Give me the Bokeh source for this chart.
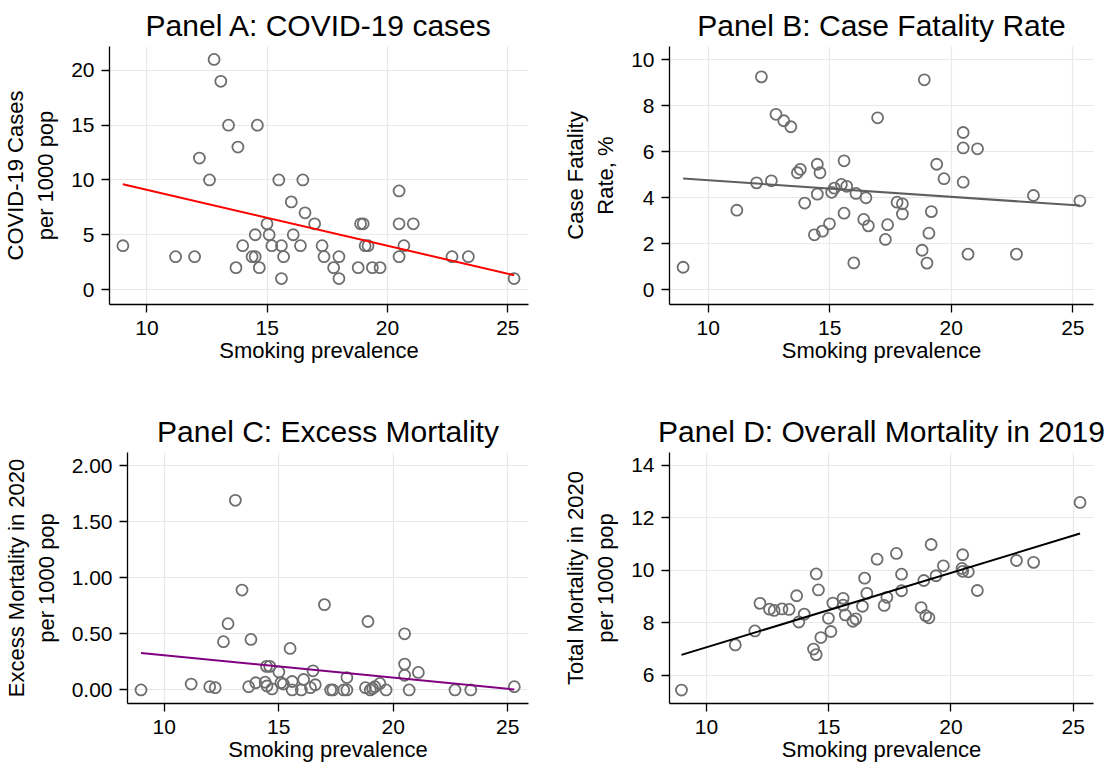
import numpy as np
from bokeh.plotting import figure
from bokeh.layouts import column, row
from bokeh.models import Range1d, FixedTicker, PrintfTickFormatter
from bokeh.embed import file_html
from bokeh.resources import INLINE

FONT = "Liberation Sans"

x_ticks = [10, 15, 20, 25]
x_label = "Smoking prevalence"

# Panel A: COVID-19 cases per 1000 pop
a_title = "Panel A: COVID-19 cases"
a_ylabel = "COVID-19 Cases\nper 1000 pop"
a_yticks = [0, 5, 10, 15, 20]
a_x = [9.0, 11.19, 11.98, 12.18, 12.6, 12.79, 13.07, 13.39, 13.70, 13.78,
       13.98, 14.37, 14.5, 14.5, 14.59, 14.67, 14.99, 15.08, 15.19, 15.48,
       15.59, 15.59, 15.68, 16.0, 16.08, 16.38, 16.48, 16.57, 16.97, 17.28,
       17.36, 17.76, 17.98, 17.98, 18.78, 18.88, 18.99, 19.07, 19.19, 19.37,
       19.69, 20.48, 20.48, 20.48, 20.68, 21.07, 22.68, 23.36, 25.26]
a_y = [4, 3, 3, 12, 10, 21, 19, 15, 2, 13,
       4, 3, 3, 5, 15, 2, 6, 5, 4, 10,
       4, 1, 3, 8, 5, 4, 10, 7, 6, 4,
       3, 2, 3, 1, 2, 6, 6, 4, 4, 2,
       2, 9, 6, 3, 4, 6, 3, 3, 1]

# Panel B: Case fatality rate, %
b_title = "Panel B: Case Fatality Rate"
b_ylabel = "Case Fatality\nRate, %"
b_yticks = [0, 2, 4, 6, 8, 10]
b_x = [8.97, 11.18, 11.99, 12.19, 12.60, 12.79, 13.11, 13.40, 13.67, 13.79,
       13.97, 14.37, 14.49, 14.49, 14.60, 14.70, 14.99, 15.08, 15.19, 15.48,
       15.59, 15.59, 15.70, 15.99, 16.08, 16.40, 16.49, 16.59, 16.97, 17.29,
       17.38, 17.77, 17.99, 17.99, 18.80, 18.89, 19.0, 19.08, 19.18, 19.40,
       19.70, 20.49, 20.49, 20.49, 20.69, 21.08, 22.68, 23.38, 25.29]
b_y = [0.98, 3.46, 4.65, 9.26, 4.74, 7.63, 7.35, 7.09, 5.09, 5.24,
       3.77, 2.39, 5.46, 4.16, 5.09, 2.55, 2.87, 4.24, 4.42, 4.58,
       5.61, 3.33, 4.50, 1.17, 4.19, 3.06, 4.0, 2.78, 7.48, 2.19,
       2.83, 3.81, 3.74, 3.30, 1.72, 9.13, 1.16, 2.46, 3.40, 5.46,
       4.83, 6.84, 6.17, 4.68, 1.55, 6.13, 1.55, 4.10, 3.87]

# Panel C: Excess mortality in 2020 per 1000 pop
c_title = "Panel C: Excess Mortality"
c_ylabel = "Excess Mortality in 2020\nper 1000 pop"
c_yticks = [0, 0.5, 1.0, 1.5, 2.0]
c_x = [8.99, 11.18, 11.99, 12.23, 12.59, 12.79, 13.11, 13.40, 13.69, 13.79,
       14.0, 14.41, 14.49, 14.47, 14.61, 14.71, 15.01, 15.10, 15.21, 15.5,
       15.59, 15.59, 15.99, 16.09, 16.39, 16.60, 16.50, 17.0, 17.27, 17.37,
       17.84, 17.98, 17.98, 18.79, 18.90, 19.0, 19.10, 19.20, 19.42, 19.69,
       20.50, 20.50, 20.50, 20.70, 21.10, 22.70, 23.39, 25.29]
c_y = [0.0, 0.052, 0.029, 0.02, 0.43, 0.59, 1.69, 0.89, 0.029, 0.45,
       0.064, 0.069, 0.035, 0.21, 0.21, 0.009, 0.16, 0.064, 0.052, 0.37,
       0.075, 0.0, 0.0, 0.093, 0.02, 0.046, 0.17, 0.76, 0.0, 0.0,
       0.0, 0.0, 0.11, 0.02, 0.61, 0.0, 0.014, 0.029, 0.058, 0.0,
       0.50, 0.23, 0.13, 0.0, 0.156, 0.0, 0.0, 0.029]

# Panel D: Total mortality per 1000 pop
d_title = "Panel D: Overall Mortality in 2019"
d_ylabel = "Total Mortality in 2020\nper 1000 pop"
d_yticks = [6, 8, 10, 12, 14]
d_x = [8.98, 11.18, 11.98, 12.19, 12.58, 12.77, 13.09, 13.38, 13.69, 13.78,
       14.0, 14.38, 14.49, 14.49, 14.58, 14.68, 14.99, 15.09, 15.17, 15.59,
       15.59, 15.68, 15.99, 16.11, 16.38, 16.47, 16.56, 16.98, 17.27, 17.38,
       17.77, 17.98, 17.98, 18.78, 18.89, 18.97, 19.10, 19.19, 19.39, 19.69,
       20.45, 20.48, 20.48, 20.71, 21.08, 22.68, 23.38, 25.28]
d_y = [5.44, 7.16, 7.69, 8.74, 8.52, 8.47, 8.53, 8.51, 9.03, 8.03,
       8.33, 7.0, 6.79, 9.86, 9.25, 7.44, 8.17, 7.67, 8.75, 8.93,
       8.67, 8.30, 8.06, 8.15, 8.63, 9.70, 9.12, 10.42, 8.66, 8.97,
       10.64, 9.85, 9.22, 8.58, 9.61, 8.27, 8.19, 10.98, 9.79, 10.17,
       10.07, 10.59, 9.96, 9.94, 9.23, 10.37, 10.30, 12.58]

MARKER_COLOR = "#6e6e6e"


def make_panel(title, xs, ys, ylabel, yticks, xr, yr, width, height,
               borders, line_color, yfmt=None):
    left, right, top, bottom = borders
    p = figure(width=width, height=height,
               x_range=Range1d(*xr), y_range=Range1d(*yr),
               output_backend="svg", toolbar_location=None,
               min_border_left=left, min_border_right=right,
               min_border_top=top, min_border_bottom=bottom,
               title=title)
    p.background_fill_color = "white"
    p.border_fill_color = "white"
    p.outline_line_color = None

    p.title.align = "center"
    p.title.text_font = FONT
    p.title.text_font_size = "30px"
    p.title.text_font_style = "normal"
    p.title.text_color = "black"
    p.title.standoff = 9

    p.xaxis.ticker = FixedTicker(ticks=x_ticks)
    p.yaxis.ticker = FixedTicker(ticks=yticks)
    if yfmt:
        p.yaxis.formatter = PrintfTickFormatter(format=yfmt)
    p.xaxis.axis_label = x_label
    p.yaxis.axis_label = ylabel

    for ax in (p.xaxis[0], p.yaxis[0]):
        ax.axis_line_color = "black"
        ax.axis_line_width = 1.3
        ax.major_tick_line_color = "black"
        ax.major_tick_line_width = 1.3
        ax.major_tick_out = 8
        ax.major_tick_in = 0
        ax.minor_tick_out = 0
        ax.minor_tick_in = 0
        ax.major_label_text_font = FONT
        ax.major_label_text_font_size = "21px"
        ax.major_label_text_color = "black"
        ax.axis_label_text_font = FONT
        ax.axis_label_text_font_size = "22px"
        ax.axis_label_text_font_style = "normal"
        ax.axis_label_text_color = "black"
    p.xaxis.major_label_standoff = 8
    p.xaxis.axis_label_standoff = 0
    p.yaxis.major_label_standoff = 7
    p.yaxis.axis_label_standoff = 10

    p.grid.grid_line_color = "#e8e8e8"
    p.grid.grid_line_width = 1.2

    p.scatter(xs, ys, marker="circle", size=11, fill_color=None,
              line_color=MARKER_COLOR, line_width=1.8)

    coef = np.polyfit(np.array(xs), np.array(ys), 1)
    xl = np.array([min(xs), max(xs)])
    p.line(xl, np.polyval(coef, xl), line_color=line_color, line_width=2)
    return p


pA = make_panel(a_title, a_x, a_y, a_ylabel, a_yticks,
                (8.443, 25.86), (-1.364, 22.18), 560, 392,
                (103, 32, 46, 87), "#ff0000")
pB = make_panel(b_title, b_x, b_y, b_ylabel, b_yticks,
                (8.41, 25.85), (-0.64, 10.58), 545, 392,
                (109, 12, 46, 88), "#5e5e5e")
pC = make_panel(c_title, c_x, c_y, c_ylabel, c_yticks,
                (8.40, 25.91), (-0.121, 2.116), 560, 372,
                (122, 32, 60, 54), "#800080", yfmt="%.2f")
pD = make_panel(d_title, d_x, d_y, d_ylabel, d_yticks,
                (8.49, 25.83), (4.93, 14.48), 545, 372,
                (99, 12, 60, 54), "#000000")

layout = column(row(pA, pB), row(pC, pD))

with open("out.html", "w") as f:
    f.write(file_html(layout, INLINE))
